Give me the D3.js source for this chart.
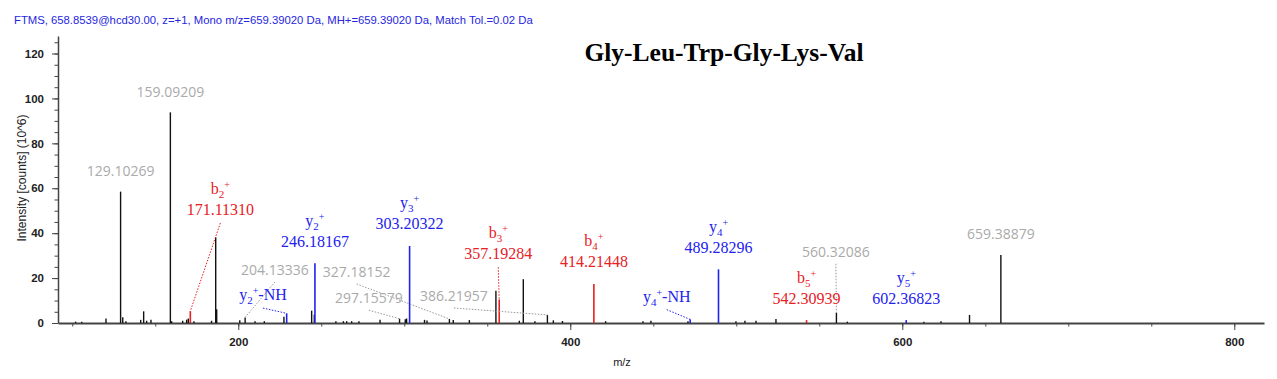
<!DOCTYPE html>
<html>
<head>
<meta charset="utf-8">
<script src="https://cdn.jsdelivr.net/npm/d3@7"></script>
<style>
  body { margin: 0; background: #fff; }
</style>
</head>
<body>
<div id="chart"></div>
<script>
// header / title
const headerText = "FTMS, 658.8539@hcd30.00, z=+1, Mono m/z=659.39020 Da, MH+=659.39020 Da, Match Tol.=0.02 Da";
const peptide = "Gly-Leu-Trp-Gly-Lys-Val";

// axis ticks
const xMajorTicks = [200, 400, 600, 800];
const yMajorTicks = [0, 20, 40, 60, 80, 100, 120];

// unannotated peaks (m/z, intensity x10^6)
const noiseMz = [102.0, 105.7, 120.3, 130.4, 132.3, 141.2, 143.0, 144.8, 147.4, 159.9, 166.5, 168.9, 169.9,
  173.3, 183.9, 186.4, 187.0, 200.9, 210.1, 215.7, 227.5, 244.2, 245.8, 258.8, 263.3, 265.3, 268.3, 272.7,
  285.4, 300.6, 301.4, 312.2, 313.7, 329.5, 339.2, 355.2, 369.3, 371.7, 378.7, 389.8, 395.3, 421.3, 443.8,
  448.6, 470.9, 499.8, 505.2, 511.9, 523.9, 566.9, 613.0, 623.3, 640.5];
const noiseInt = [0.6, 0.6, 2.0, 2.6, 0.8, 1.4, 5.2, 1.0, 1.4, 0.8, 1.0, 1.5, 2.0,
  0.8, 1.0, 38.2, 6.1, 1.2, 0.8, 0.8, 2.8, 5.5, 3.7, 0.8, 0.8, 0.8, 0.8, 0.8,
  1.5, 1.7, 2.0, 1.4, 1.1, 1.3, 1.3, 14.4, 1.0, 19.5, 0.8, 1.2, 0.9, 0.8, 0.8,
  1.0, 0.8, 0.8, 1.0, 1.0, 1.8, 0.6, 0.6, 0.8, 3.6];

// unassigned but labelled peaks
const grayMz = [129.10269, 159.09209, 204.13336, 297.15579, 327.18152, 386.21957, 560.32086, 659.38879];
const grayInt = [58.5, 93.8, 2.5, 1.9, 1.8, 3.6, 4.6, 30.3];

// fragment ions
const ionSeries = ["b", "y", "y", "y", "b", "b", "y", "y", "b", "y"];
const ionIndex = ["2", "2", "2", "3", "3", "4", "4", "4", "5", "5"];
const ionSuffix = ["", "-NH", "", "", "", "", "-NH", "", "", ""];
const ionMz = [171.11310, 229.155, 246.18167, 303.20322, 357.19284, 414.21448, 472.256, 489.28296, 542.30939, 602.36823];
const ionInt = [5.3, 4.3, 26.6, 34.3, 10.5, 17.4, 1.6, 23.9, 1.3, 1.3];

// moved labels: [m/z, intensity] of the label anchor (others sit above the peak)
const grayLabelAt = {
  "204.13336": [222.1, 21.4],
  "297.15579": [278.7, 8.8],
  "327.18152": [271.3, 20.5],
  "386.21957": [329.9, 9.8],
  "560.32086": [560.0, 29.5]
};
const ionLabelAt = {
  0: [189.2, 48.1],
  1: [214.9, 10.2],
  4: [356.6, 28.4],
  6: [458.1, 9.5]
};

const width = 1277, height = 379;
const colors = {b: "#e8201f", y: "#2222ee", gray: "#aaaaaa", peak: "#111", axis: "#444"};

const svg = d3.select("#chart").append("svg")
  .attr("width", width)
  .attr("height", height);

const x = d3.scaleLinear().domain([91.4, 817.9]).range([58, 1264]);
const y = d3.scaleLinear().domain([0, 127.8]).range([323, 36]);

// header
svg.append("text")
  .attr("x", 14).attr("y", 24)
  .attr("font-family", "Liberation Sans, Arial, sans-serif")
  .attr("font-size", 11.3)
  .attr("fill", "#2626e0")
  .text(headerText);

svg.append("text")
  .attr("x", 724).attr("y", 61)
  .attr("text-anchor", "middle")
  .attr("font-family", "Liberation Serif, Times New Roman, serif")
  .attr("font-weight", "bold")
  .attr("font-size", 25.5)
  .text(peptide);

// axes
const tickFont = g => g.selectAll("text")
  .attr("font-family", "Liberation Sans, Arial, sans-serif")
  .attr("font-size", 11.5)
  .attr("font-weight", "bold")
  .attr("fill", "#222");

svg.append("g")
  .attr("transform", "translate(58,0)")
  .call(d3.axisLeft(y).tickValues(d3.range(0, 126, 5)).tickSize(3.5).tickFormat(""))
  .call(g => g.select(".domain").remove())
  .call(g => g.selectAll("line").attr("stroke", colors.axis));

svg.append("g")
  .attr("transform", "translate(58,0)")
  .call(d3.axisLeft(y).tickValues(yMajorTicks).tickSize(6).tickSizeOuter(0).tickPadding(8))
  .call(g => g.select(".domain").attr("stroke", colors.axis).attr("stroke-width", 1.5))
  .call(g => g.selectAll("line").attr("stroke", colors.axis))
  .call(tickFont);

svg.append("g")
  .attr("transform", "translate(0,323)")
  .call(d3.axisBottom(x).tickValues(d3.range(100, 818, 50)).tickSize(3.5).tickFormat(""))
  .call(g => g.select(".domain").remove())
  .call(g => g.selectAll("line").attr("stroke", colors.axis));

svg.append("g")
  .attr("transform", "translate(0,323)")
  .call(d3.axisBottom(x).tickValues(xMajorTicks).tickSize(7).tickSizeOuter(0).tickPadding(8))
  .call(g => g.select(".domain").attr("stroke", colors.axis).attr("stroke-width", 2))
  .call(g => g.selectAll("line").attr("stroke", colors.axis))
  .call(tickFont);

svg.append("text")
  .attr("x", 622).attr("y", 366)
  .attr("text-anchor", "middle")
  .attr("font-family", "Liberation Sans, Arial, sans-serif")
  .attr("font-size", 11)
  .attr("fill", "#222")
  .text("m/z");

svg.append("text")
  .attr("transform", "translate(26,178) rotate(-90)")
  .attr("text-anchor", "middle")
  .attr("font-family", "Liberation Sans, Arial, sans-serif")
  .attr("font-size", 12)
  .attr("fill", "#222")
  .text("Intensity [counts] (10^6)");

// peaks
const plain = noiseMz.map((m, i) => ({mz: m, v: noiseInt[i]}))
  .concat(grayMz.map((m, i) => ({mz: m, v: grayInt[i]})));

svg.append("g").selectAll("line")
  .data(plain)
  .join("line")
  .attr("x1", d => x(d.mz)).attr("x2", d => x(d.mz))
  .attr("y1", y(0)).attr("y2", d => y(d.v))
  .attr("stroke", colors.peak)
  .attr("stroke-width", 1.4);

const ions = ionMz.map((m, i) => ({
  i, mz: m, v: ionInt[i], s: ionSeries[i], n: ionIndex[i], suf: ionSuffix[i]
}));

svg.append("g").selectAll("line")
  .data(ions)
  .join("line")
  .attr("x1", d => x(d.mz)).attr("x2", d => x(d.mz))
  .attr("y1", y(0)).attr("y2", d => y(d.v))
  .attr("stroke", d => colors[d.s])
  .attr("stroke-width", 1.6);

// gray labels
const grayLabels = grayMz.map((m, i) => {
  const key = m.toFixed(5);
  const at = grayLabelAt[key];
  return {
    key, px: x(m), py: y(grayInt[i]),
    lx: at ? x(at[0]) : x(m),
    ly: at ? y(at[1]) : y(grayInt[i]) - 15.5,
    moved: !!at
  };
});

svg.append("g").selectAll("line")
  .data(grayLabels.filter(d => d.moved))
  .join("line")
  .attr("x1", d => d.lx).attr("y1", d => d.ly + 7)
  .attr("x2", d => d.px).attr("y2", d => d.py)
  .attr("stroke", "#999")
  .attr("stroke-width", 1)
  .attr("stroke-dasharray", "1.5,1.5");

svg.append("g").selectAll("text")
  .data(grayLabels)
  .join("text")
  .attr("x", d => d.lx).attr("y", d => d.ly)
  .attr("text-anchor", "middle")
  .attr("font-family", "Open Sans, Noto Sans, sans-serif")
  .attr("font-size", 14)
  .attr("fill", colors.gray)
  .text(d => d.key);

// ion labels
ions.forEach(d => {
  const at = ionLabelAt[d.i];
  d.px = x(d.mz);
  d.py = y(d.v);
  d.lx = at ? x(at[0]) : d.px;
  d.ly = at ? y(at[1]) : d.py - 16.5;
  d.moved = !!at;
});

svg.append("g").selectAll("line")
  .data(ions.filter(d => d.moved))
  .join("line")
  .attr("x1", d => d.lx).attr("y1", d => d.ly + 8)
  .attr("x2", d => d.px).attr("y2", d => d.py)
  .attr("stroke", d => colors[d.s])
  .attr("stroke-width", 1)
  .attr("stroke-dasharray", "1.5,1.5");

const ionG = svg.append("g")
  .attr("font-family", "Liberation Serif, Times New Roman, serif");

ions.forEach(d => {
  const hasNumber = d.suf === "";
  const nameY = hasNumber ? d.ly - 21 : d.ly;
  const t = ionG.append("text")
    .attr("x", d.lx).attr("y", nameY)
    .attr("text-anchor", "middle")
    .attr("font-size", 16)
    .attr("fill", colors[d.s]);
  t.append("tspan").text(d.s);
  t.append("tspan").attr("font-size", 11).attr("dy", 4).text(d.n);
  t.append("tspan").attr("font-size", 10).attr("dy", -10).text("+");
  if (d.suf) t.append("tspan").attr("dy", 6).text(d.suf);
  if (hasNumber) {
    ionG.append("text")
      .attr("x", d.lx).attr("y", d.ly)
      .attr("text-anchor", "middle")
      .attr("font-size", 16)
      .attr("fill", colors[d.s])
      .text(d.mz.toFixed(5));
  }
});
</script>
</body>
</html>
